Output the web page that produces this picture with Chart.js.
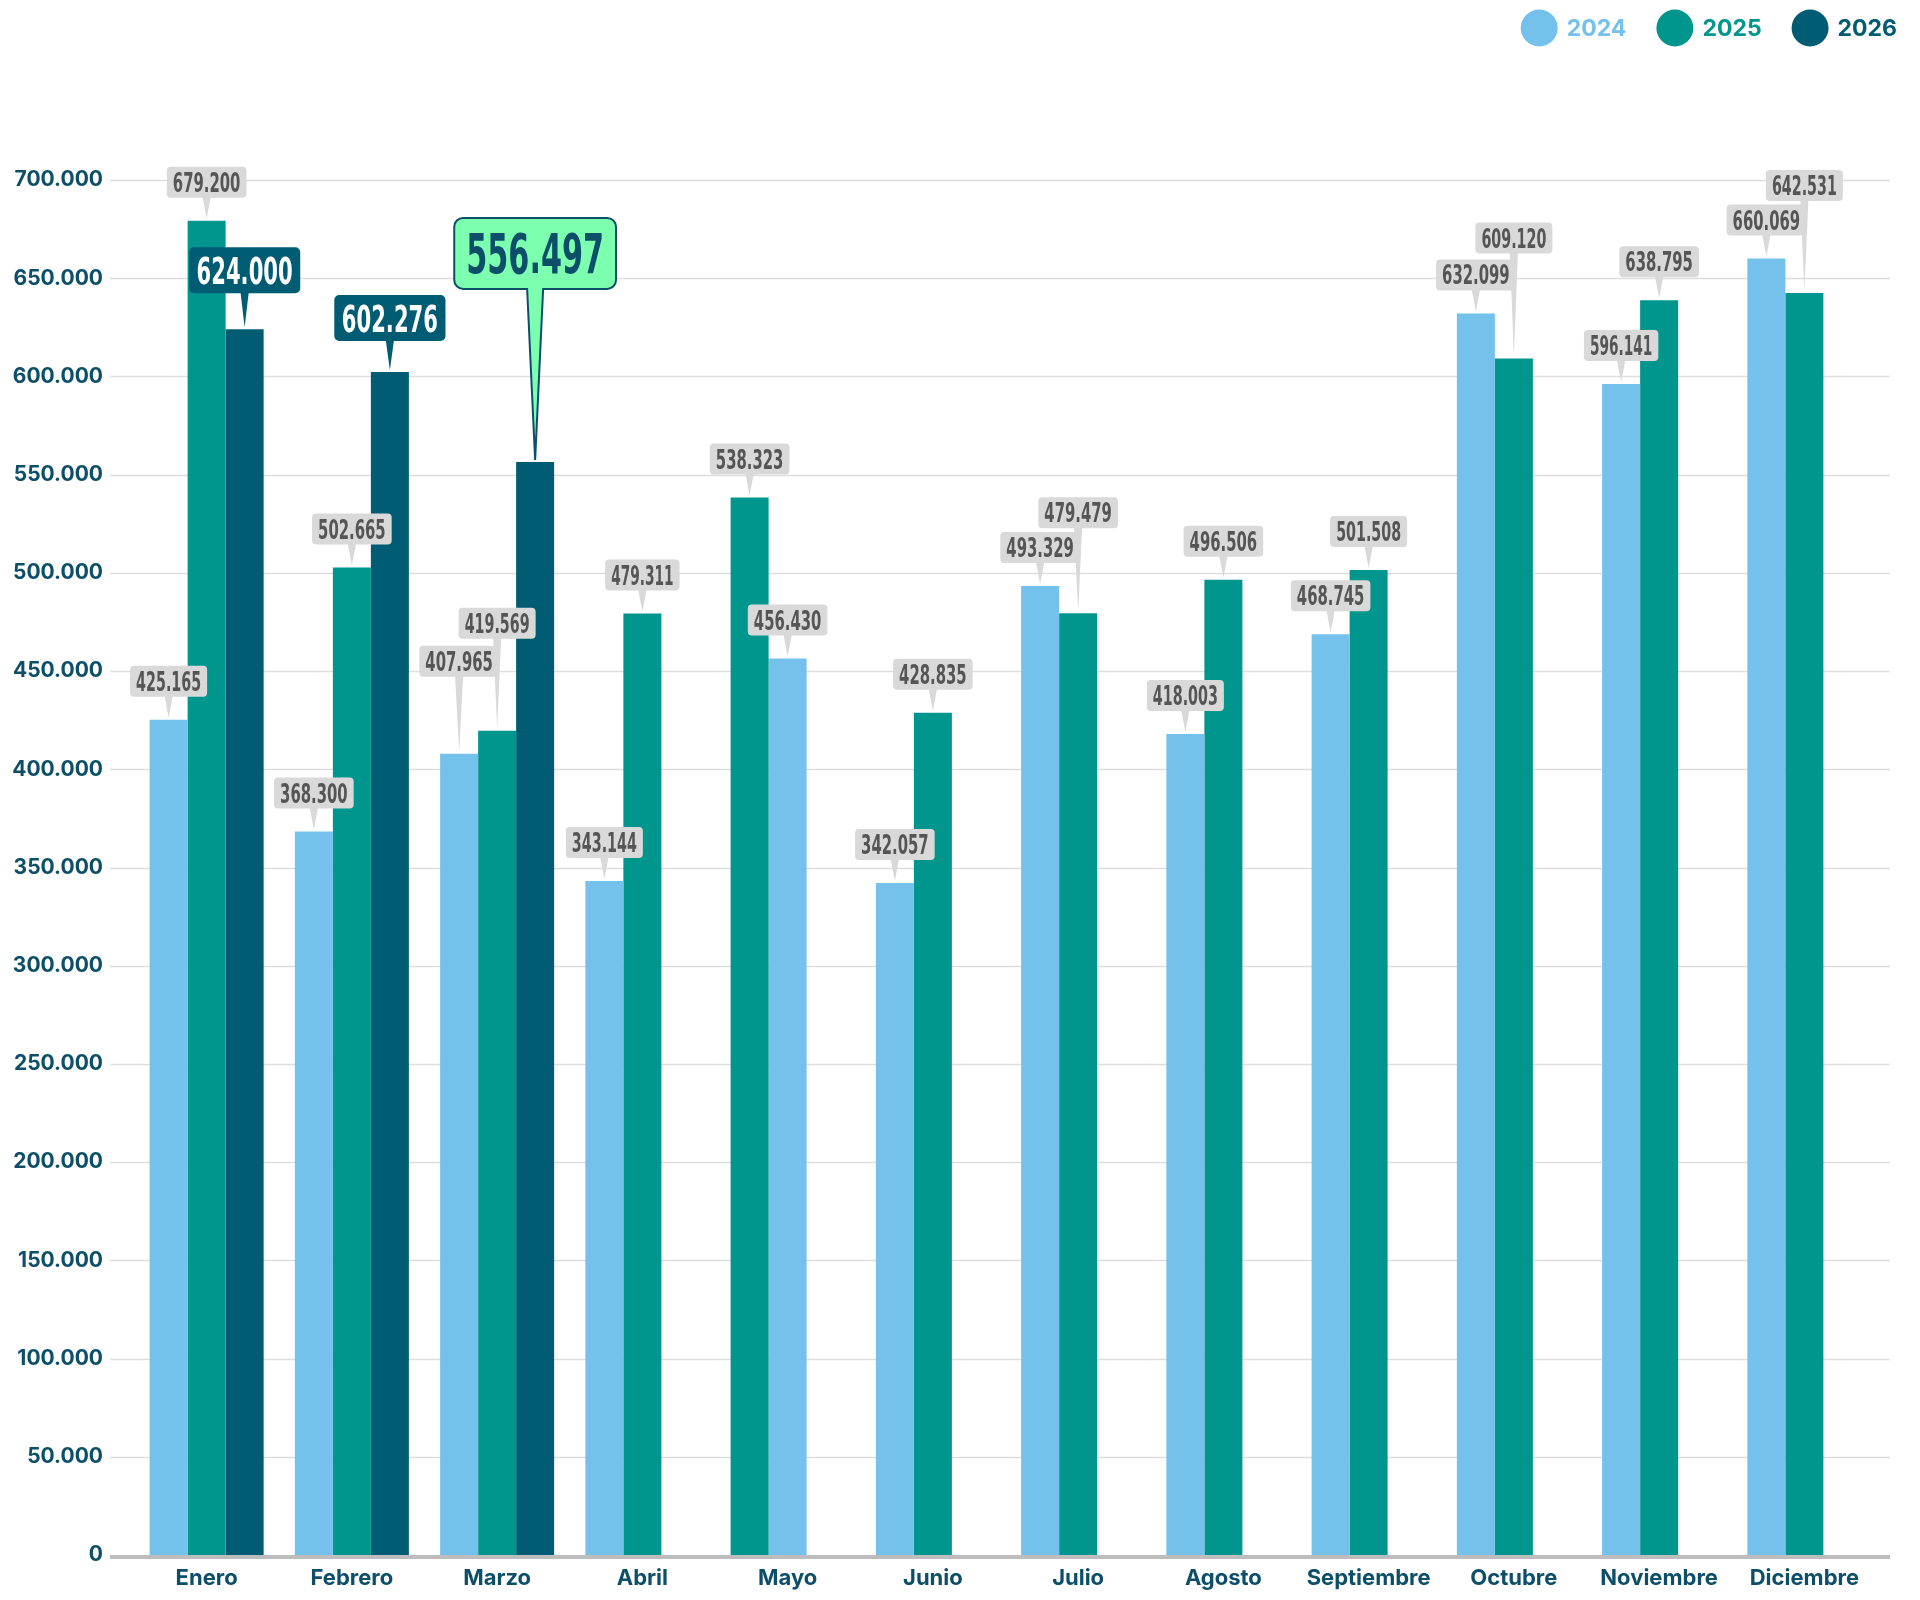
<!DOCTYPE html>
<html>
<head>
<meta charset="utf-8">
<script src="https://cdn.jsdelivr.net/npm/chart.js@4.4.1/dist/chart.umd.min.js"></script>
<style>
  html, body { margin: 0; background: #fff; }
  #wrap { width: 1920px; height: 1600px; }
</style>
</head>
<body>
<div id="wrap"><canvas id="ventasChart"></canvas></div>
<script>
const months = ['Enero', 'Febrero', 'Marzo', 'Abril', 'Mayo', 'Junio', 'Julio', 'Agosto', 'Septiembre', 'Octubre', 'Noviembre', 'Diciembre'];
const years = ['2024', '2025', '2026'];
const values2024 = [425165, 368300, 407965, 343144, 456430, 342057, 493329, 418003, 468745, 632099, 596141, 660069];
const values2025 = [679200, 502665, 419569, 479311, 538323, 428835, 479479, 496506, 501508, 609120, 638795, 642531];
const values2026 = [624000, 602276, 556497, null, null, null, null, null, null, null, null, null];
const yTicks = [0, 50000, 100000, 150000, 200000, 250000, 300000, 350000, 400000, 450000, 500000, 550000, 600000, 650000, 700000];

// in the original the May bars of 2024 and 2025 stand in swapped places
const swappedMonths = ['Mayo'];

const colors = ['#74c1ec', '#00968e', '#005c73'];
const axisColor = '#0d4f69';
const condensed = '"Liberation Sans Narrow", "DejaVu Sans Condensed", sans-serif';

// how far (px) each callout sits above its bar, when not the default
const calloutGaps = {
    '2024|Marzo': 77, '2025|Marzo': 92, '2025|Julio': 85, '2025|Octubre': 105,
    '2025|Diciembre': 92, '2026|Enero': 36, '2026|Febrero': 31, '2026|Marzo': 173
};
const highlight = '2026|Marzo';

const fmt = v => String(v).replace(/\B(?=(\d{3})+(?!\d))/g, '.');

// build the slot data (with the swap) from the arrays
const slot0 = values2024.map((v, i) => swappedMonths.includes(months[i]) ? values2025[i] : v);
const slot1 = values2025.map((v, i) => swappedMonths.includes(months[i]) ? values2024[i] : v);
const slot0Colors = months.map(m => swappedMonths.includes(m) ? colors[1] : colors[0]);
const slot1Colors = months.map(m => swappedMonths.includes(m) ? colors[0] : colors[1]);

const calloutStyles = {
    grey: { size: 26, padX: 6, height: 31, radius: 4, tail: 8, fill: '#d9d9d9', text: '#555555', border: null },
    dark: { size: 37, padX: 7.5, height: 46, radius: 5, tail: 8, fill: '#005c73', text: '#ffffff', border: null },
    mint: { size: 53, padX: 12, height: 71, radius: 9, tail: 16, fill: '#7dffb0', text: '#0d4f69', border: '#0d4f69' }
};

function drawCallout(ctx, x, barTop, text, st, gap) {
    ctx.save();
    ctx.font = 'bold ' + st.size + 'px ' + condensed;
    // squeeze the glyphs to a tall, condensed look
    let units = 0;
    for (const c of text) units += c === '.' ? 0.2 : (c === '1' ? 0.3 : 0.4);
    const target = st.size * units;
    const squeeze = target / ctx.measureText(text).width;
    const w = target + st.padX * 2, h = st.height;
    const bottom = barTop - gap, top = bottom - h, left = x - w / 2;
    const r = st.radius, hb = st.tail / 2;
    ctx.beginPath();
    ctx.moveTo(left + r, top);
    ctx.lineTo(left + w - r, top);
    ctx.arcTo(left + w, top, left + w, top + r, r);
    ctx.lineTo(left + w, bottom - r);
    ctx.arcTo(left + w, bottom, left + w - r, bottom, r);
    ctx.lineTo(x + hb, bottom);
    ctx.lineTo(x, barTop - 2);
    ctx.lineTo(x - hb, bottom);
    ctx.lineTo(left + r, bottom);
    ctx.arcTo(left, bottom, left, bottom - r, r);
    ctx.lineTo(left, top + r);
    ctx.arcTo(left, top, left + r, top, r);
    ctx.closePath();
    ctx.fillStyle = st.fill;
    ctx.fill();
    if (st.border) {
        ctx.lineWidth = 2;
        ctx.strokeStyle = st.border;
        ctx.stroke();
    }
    ctx.fillStyle = st.text;
    ctx.textAlign = 'center';
    ctx.textBaseline = 'alphabetic';
    ctx.translate(x, top + h / 2 + st.size * 0.37);
    ctx.scale(squeeze, 1.03);
    ctx.fillText(text, 0, 0);
    ctx.restore();
}

const gridPlugin = {
    id: 'gridLines',
    beforeDatasetsDraw(chart) {
        const { ctx, chartArea, scales } = chart;
        ctx.save();
        ctx.strokeStyle = '#dedede';
        ctx.lineWidth = 1.5;
        yTicks.forEach(v => {
            if (v === 0) return;
            const y = Math.round(scales.y.getPixelForValue(v)) + 0.5;
            ctx.beginPath();
            ctx.moveTo(chartArea.left - 24, y);
            ctx.lineTo(chartArea.right + 13, y);
            ctx.stroke();
        });
        ctx.restore();
    },
    afterDatasetsDraw(chart) {
        const { ctx, chartArea, scales } = chart;
        const y = scales.y.getPixelForValue(0) + 2;
        ctx.save();
        ctx.strokeStyle = '#bdbdbd';
        ctx.lineWidth = 4;
        ctx.beginPath();
        ctx.moveTo(chartArea.left - 24, y);
        ctx.lineTo(chartArea.right + 13, y);
        ctx.stroke();
        ctx.restore();
    }
};

const calloutPlugin = {
    id: 'callouts',
    afterDatasetsDraw(chart) {
        const ctx = chart.ctx;
        const later = [];
        chart.data.datasets.forEach((ds, d) => {
            const meta = chart.getDatasetMeta(d);
            ds.data.forEach((v, i) => {
                if (v == null) return;
                const key = ds.label + '|' + months[i];
                const bar = meta.data[i];
                const style = key === highlight ? calloutStyles.mint : (ds.label === '2026' ? calloutStyles.dark : calloutStyles.grey);
                const gap = calloutGaps[key] !== undefined ? calloutGaps[key] : 23;
                const job = () => drawCallout(ctx, bar.x, bar.y, fmt(v), style, gap);
                if (style === calloutStyles.grey) job(); else later.push([style === calloutStyles.mint ? 1 : 0, job]);
            });
        });
        later.sort((a, b) => a[0] - b[0]).forEach(j => j[1]());
    }
};

const legendPlugin = {
    id: 'topLegend',
    afterDraw(chart) {
        const ctx = chart.ctx;
        ctx.save();
        ctx.font = 'bold 23px Inter, sans-serif';
        ctx.textBaseline = 'middle';
        const r = 18.5, cy = 28;
        let cursor = 1897;
        for (let i = years.length - 1; i >= 0; i--) {
            const tw = ctx.measureText(years[i]).width;
            const tx = cursor - tw;
            ctx.fillStyle = colors[i];
            ctx.fillText(years[i], tx, cy + 1);
            const cx = tx - 9 - r;
            ctx.beginPath();
            ctx.arc(cx, cy, r, 0, Math.PI * 2);
            ctx.fill();
            cursor = cx - r - 30;
        }
        ctx.restore();
    }
};

const chart = new Chart(document.getElementById('ventasChart'), {
    type: 'bar',
    data: {
        labels: months,
        datasets: [
            { label: years[0], data: slot0, backgroundColor: slot0Colors },
            { label: years[1], data: slot1, backgroundColor: slot1Colors },
            { label: years[2], data: values2026, backgroundColor: colors[2] }
        ]
    },
    options: {
        responsive: true,
        maintainAspectRatio: false,
        devicePixelRatio: 1,
        animation: false,
        layout: { padding: { top: 180, right: 43, bottom: 0, left: 0 } },
        datasets: {
            bar: { categoryPercentage: 0.785, barPercentage: 1.0, borderWidth: 0 }
        },
        plugins: {
            legend: { display: false },
            tooltip: { enabled: false }
        },
        scales: {
            x: {
                grid: { display: false, drawTicks: false },
                border: { display: false },
                ticks: {
                    color: axisColor,
                    font: { family: 'Inter', weight: 'bold', size: 22 },
                    padding: 10,
                    maxRotation: 0
                },
                afterFit(scale) { scale.height = 45; }
            },
            y: {
                min: 0,
                max: 700000,
                grid: { display: false, drawTicks: false },
                border: { display: false },
                afterBuildTicks(scale) { scale.ticks = yTicks.map(v => ({ value: v })); },
                ticks: {
                    color: axisColor,
                    font: { family: 'Inter', weight: 'bold', size: 21 },
                    padding: 31,
                    callback: v => fmt(v)
                },
                afterFit(scale) { scale.width = 134; }
            }
        }
    },
    plugins: [gridPlugin, calloutPlugin, legendPlugin]
});
</script>
</body>
</html>
